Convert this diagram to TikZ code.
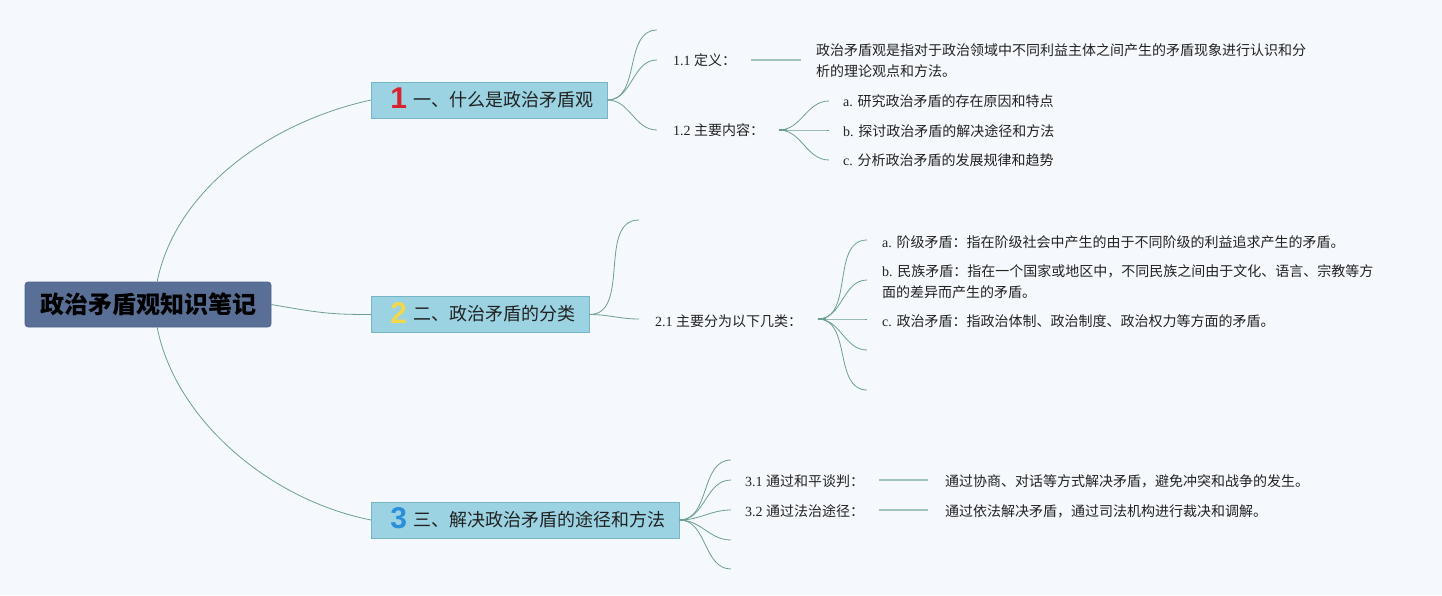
\documentclass[tikz,border=0pt]{standalone}
\usepackage{fontspec}
\setmainfont{Liberation Serif}
\newfontfamily\cjk{Noto Sans CJK SC}
\newfontfamily\badgefont{Liberation Sans}
\definecolor{bgc}{HTML}{F5F9FD}
\definecolor{rootc}{HTML}{5A6F96}
\definecolor{rootd}{HTML}{4E6288}
\definecolor{brc}{HTML}{9BD3E3}
\definecolor{brd}{HTML}{75B5C5}
\definecolor{linec}{HTML}{6C9E95}
\definecolor{linkc}{HTML}{9EC4BB}
\definecolor{txtc}{HTML}{222222}
\definecolor{badgeone}{HTML}{D8232F}
\definecolor{badgetwo}{HTML}{F2D84A}
\definecolor{badgethree}{HTML}{2A8FDB}
\newcommand{\badgenum}[2]{\raisebox{-2.5pt}{\smash{\badgefont\bfseries\fontsize{30}{30}\selectfont\color{#1}#2}}\kern6pt}
\begin{document}
\begin{tikzpicture}[x=1pt,y=-1pt,
  rootbox/.style={fill=rootc, draw=rootd, line width=0.6pt, rounded corners=3pt,
    inner xsep=15pt, minimum height=45pt, text=black,
    font=\cjk\bfseries\fontsize{24}{28}\selectfont},
  brbox/.style={fill=brc, draw=brd, line width=0.8pt, inner xsep=19pt, inner ysep=0pt,
    minimum height=36pt, text=txtc, anchor=west, font=\fontsize{18}{22}\selectfont},
  leaf/.style={anchor=west, inner sep=0pt, text=txtc, align=left,
    font=\fontsize{14}{21}\selectfont},
  conn/.style={draw=linec, line width=0.8pt},
  link/.style={draw=linkc, line width=1.8pt}
]
\fill[bgc] (0,0) rectangle (1442,595);
\useasboundingbox (0,0) rectangle (1442,595);

% root
\node[rootbox] (root) at (148,304.5) {政治矛盾观知识笔记};
\coordinate (roottop) at (157,282.5);
\coordinate (rootbot) at (157,326.5);

% branches
\node[brbox] (b1) at (371,100) {\badgenum{badgeone}{1}{\cjk 一、什么是政治矛盾观}\kern-5pt};
\node[brbox] (b2) at (371,314.5) {\badgenum{badgetwo}{2}{\cjk 二、政治矛盾的分类}\kern-5pt};
\node[brbox] (b3) at (371,520) {\badgenum{badgethree}{3}{\cjk 三、解决政治矛盾的途径和方法}\kern-5pt};

\draw[conn] (roottop) .. controls (175,190) and (270,122) .. (b1.west);
\draw[conn] (root.east) .. controls (320,313) and (330,314.5) .. (b2.west);
\draw[conn] (rootbot) .. controls (175,420) and (270,500) .. (b3.west);

% ---------- branch 1
\coordinate (e10) at (657,30);
\coordinate (e11) at (657,60);
\coordinate (e12) at (657,130);
\node[leaf] (t11) at (673,60) {1.1 {\cjk 定义：}};
\node[leaf] (t12) at (673,130) {1.2 {\cjk 主要内容：}};
\coordinate (l11a) at (751,60);
\coordinate (l11b) at (801,60);
\node[leaf] (d11) at (816,60.5) {\cjk 政治矛盾观是指对于政治领域中不同利益主体之间产生的矛盾现象进行认识和分\\\cjk 析的理论观点和方法。};
\coordinate (h12) at (779,130);
\coordinate (e12a) at (829,101);
\coordinate (e12b) at (829,130);
\coordinate (e12c) at (829,160);
\node[leaf] (i12a) at (843,101) {a. {\cjk 研究政治矛盾的存在原因和特点}};
\node[leaf] (i12b) at (843,131) {b. {\cjk 探讨政治矛盾的解决途径和方法}};
\node[leaf] (i12c) at (843,160) {c. {\cjk 分析政治矛盾的发展规律和趋势}};

\foreach \e in {e10,e11,e12}
  \draw[conn] (b1.east) to[out=0,in=180] (\e);
\draw[link] (l11a) -- (l11b);
\foreach \e in {e12a,e12b,e12c}
  \draw[conn] (h12) to[out=0,in=180] (\e);
\draw[linec, line width=2.2pt] (h12) -- ++(8,0);

% ---------- branch 2
\coordinate (e20) at (639,220);
\coordinate (e21) at (639,319);
\node[leaf] (t21) at (655,321) {2.1 {\cjk 主要分为以下几类：}};
\coordinate (h21) at (818,319);
\coordinate (e21a) at (867,240);
\coordinate (e21b) at (867,280);
\coordinate (e21c) at (867,319);
\coordinate (e21d) at (867,350);
\coordinate (e21e) at (867,390);
\node[leaf] (i21a) at (882,242) {a. {\cjk 阶级矛盾：指在阶级社会中产生的由于不同阶级的利益追求产生的矛盾。}};
\node[leaf] (i21b) at (882,281.5) {b. {\cjk 民族矛盾：指在一个国家或地区中，不同民族之间由于文化、语言、宗教等方}\\{\cjk 面的差异而产生的矛盾。}};
\node[leaf] (i21c) at (882,321) {c. {\cjk 政治矛盾：指政治体制、政治制度、政治权力等方面的矛盾。}};

\foreach \e in {e20,e21}
  \draw[conn] (b2.east) to[out=0,in=180] (\e);
\foreach \e in {e21a,e21b,e21c,e21d,e21e}
  \draw[conn] (h21) to[out=0,in=180] (\e);
\draw[linec, line width=2.2pt] (h21) -- ++(8,0);

% ---------- branch 3
\coordinate (e30) at (731,460);
\coordinate (e31) at (731,480);
\coordinate (e32) at (731,510);
\coordinate (e33) at (731,540);
\coordinate (e34) at (731,569);
\node[leaf] (t31) at (745,481) {3.1 {\cjk 通过和平谈判：}};
\node[leaf] (t32) at (745,511) {3.2 {\cjk 通过法治途径：}};
\coordinate (l31a) at (879,480);
\coordinate (l31b) at (928,480);
\coordinate (l32a) at (879,510);
\coordinate (l32b) at (928,510);
\node[leaf] (d31) at (945,481) {\cjk 通过协商、对话等方式解决矛盾，避免冲突和战争的发生。};
\node[leaf] (d32) at (945,511) {\cjk 通过依法解决矛盾，通过司法机构进行裁决和调解。};

\foreach \e in {e30,e31,e32,e33,e34}
  \draw[conn] (b3.east) to[out=0,in=180] (\e);
\draw[link] (l31a) -- (l31b);
\draw[link] (l32a) -- (l32b);
\end{tikzpicture}
\end{document}
